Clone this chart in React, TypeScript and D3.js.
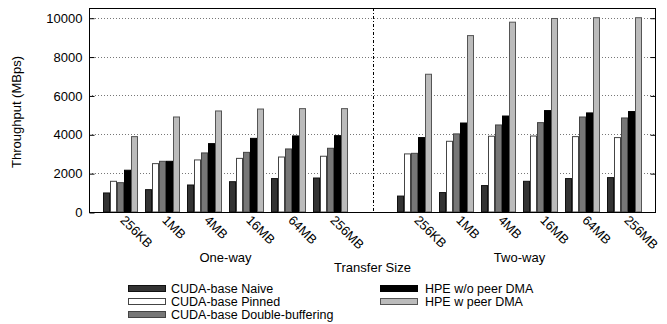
import { useEffect, useRef } from "react";
import * as d3 from "d3";

const sizes = ["256KB", "1MB", "4MB", "16MB", "64MB", "256MB"];
const seriesNames = [
  "CUDA-base Naive",
  "CUDA-base Pinned",
  "CUDA-base Double-buffering",
  "HPE w/o peer DMA",
  "HPE w peer DMA",
];

// one-way transfers
const naiveOne = [980, 1150, 1390, 1560, 1720, 1750];
const pinnedOne = [1580, 2490, 2680, 2760, 2830, 2870];
const doubleOne = [1510, 2610, 3040, 3070, 3245, 3280];
const hpeWoOne = [2150, 2610, 3520, 3790, 3915, 3930];
const hpeWOne = [3880, 4890, 5200, 5300, 5320, 5320];

// two-way transfers
const naiveTwo = [820, 1000, 1360, 1580, 1720, 1770];
const pinnedTwo = [2990, 3640, 3900, 3910, 3880, 3830];
const doubleTwo = [3020, 4020, 4480, 4600, 4890, 4840];
const hpeWoTwo = [3830, 4580, 4940, 5220, 5100, 5170];
const hpeWTwo = [7090, 9080, 9770, 9960, 10000, 10000];

const yTicks = [0, 2000, 4000, 6000, 8000, 10000];

const fills = ["#333333", "#ffffff", "#777777", "#000000", "#bbbbbb"];
const strokes = ["#111111", "#444444", "#444444", "#000000", "#555555"];

const FONT = "'Liberation Sans', Arial, sans-serif";

export default function App() {
  const svgRef = useRef(null);

  useEffect(() => {
    const svg = d3.select(svgRef.current);
    svg.selectAll("*").remove();

    const margin = { top: 8, right: 11, bottom: 112, left: 89 };
    const width = 667;
    const height = 324;
    const plotBottom = height - margin.bottom;

    const x = d3
      .scaleLinear()
      .domain([-0.75, 12.75])
      .range([margin.left, width - margin.right]);
    const y = d3.scaleLinear().domain([0, 10500]).range([plotBottom, margin.top]);

    const slotW = x(1) - x(0);
    const barW = slotW / 6;

    const one = [naiveOne, pinnedOne, doubleOne, hpeWoOne, hpeWOne];
    const two = [naiveTwo, pinnedTwo, doubleTwo, hpeWoTwo, hpeWTwo];

    const bars = [];
    one.forEach((vals, s) =>
      vals.forEach((v, i) => bars.push({ slot: i, s, v }))
    );
    two.forEach((vals, s) =>
      vals.forEach((v, i) => bars.push({ slot: i + 7, s, v }))
    );

    // gridlines
    svg
      .append("g")
      .selectAll("line")
      .data(yTicks.slice(1))
      .join("line")
      .attr("x1", margin.left)
      .attr("x2", width - margin.right)
      .attr("y1", (d) => Math.round(y(d)) + 0.5)
      .attr("y2", (d) => Math.round(y(d)) + 0.5)
      .attr("stroke", "#777")
      .attr("stroke-width", 1)
      .attr("stroke-dasharray", "1,2");

    // separator between one-way and two-way
    svg
      .append("line")
      .attr("x1", Math.round(x(6)) + 0.5)
      .attr("x2", Math.round(x(6)) + 0.5)
      .attr("y1", margin.top)
      .attr("y2", plotBottom)
      .attr("stroke", "#000")
      .attr("stroke-dasharray", "3,2,1,2");

    // bars
    svg
      .append("g")
      .selectAll("rect")
      .data(bars)
      .join("rect")
      .attr("x", (d) => x(d.slot) - 2.5 * barW + d.s * barW + 0.5)
      .attr("y", (d) => y(d.v))
      .attr("width", barW - 1)
      .attr("height", (d) => y(0) - y(d.v))
      .attr("fill", (d) => fills[d.s])
      .attr("stroke", (d) => strokes[d.s])
      .attr("stroke-width", 1);

    // frame
    svg
      .append("rect")
      .attr("x", margin.left + 0.5)
      .attr("y", margin.top + 0.5)
      .attr("width", width - margin.right - margin.left - 1)
      .attr("height", plotBottom - margin.top)
      .attr("fill", "none")
      .attr("stroke", "#000");

    // y axis
    const yAxis = d3
      .axisLeft(y)
      .tickValues(yTicks)
      .tickFormat(d3.format("d"))
      .tickSize(-5)
      .tickPadding(7);
    const ga = svg
      .append("g")
      .attr("transform", `translate(${margin.left + 0.5},0.5)`)
      .call(yAxis);
    ga.select(".domain").remove();
    ga.selectAll("text")
      .attr("font-family", FONT)
      .attr("font-size", 13)
      .attr("fill", "#000");

    const yAxisR = d3
      .axisRight(y)
      .tickValues(yTicks.slice(1))
      .tickSize(-5)
      .tickFormat(() => "");
    const gr = svg
      .append("g")
      .attr("transform", `translate(${width - margin.right - 0.5},0.5)`)
      .call(yAxisR);
    gr.select(".domain").remove();

    // x labels
    const labels = [];
    sizes.forEach((t, i) => labels.push({ slot: i, t }));
    sizes.forEach((t, i) => labels.push({ slot: i + 7, t }));
    svg
      .append("g")
      .selectAll("text")
      .data(labels)
      .join("text")
      .attr(
        "transform",
        (d) => `translate(${x(d.slot) - 1},${plotBottom + 9}) rotate(45)`
      )
      .attr("font-family", FONT)
      .attr("font-size", 13)
      .text((d) => d.t);

    const txt = (t, cx, cy) =>
      svg
        .append("text")
        .attr("x", cx)
        .attr("y", cy)
        .attr("text-anchor", "middle")
        .attr("font-family", FONT)
        .attr("font-size", 13)
        .text(t);

    txt("One-way", x(2.5), 262);
    txt("Two-way", x(9.5), 262);
    txt("Transfer Size", (margin.left + width - margin.right) / 2, 272);

    svg
      .append("text")
      .attr("transform", "translate(21,112) rotate(-90)")
      .attr("text-anchor", "middle")
      .attr("font-family", FONT)
      .attr("font-size", 13)
      .text("Throughput (MBps)");

    // legend
    const legendPos = [
      [128, 289],
      [128, 302],
      [128, 315],
      [380, 289],
      [380, 302],
    ];
    const lg = svg
      .append("g")
      .selectAll("g")
      .data(seriesNames)
      .join("g")
      .attr(
        "transform",
        (d, i) => `translate(${legendPos[i][0]},${legendPos[i][1]})`
      );
    lg.append("rect")
      .attr("x", 0.5)
      .attr("y", -3.5)
      .attr("width", 37)
      .attr("height", 6)
      .attr("fill", (d, i) => fills[i])
      .attr("stroke", (d, i) => strokes[i]);
    lg.append("text")
      .attr("x", (d, i) => (i < 3 ? 43 : 45))
      .attr("y", 4)
      .attr("font-family", FONT)
      .attr("font-size", 12.5)
      .text((d) => d);
  }, []);

  return (
    <svg
      ref={svgRef}
      width={667}
      height={324}
      style={{ position: "absolute", left: 0, top: 0, background: "#fff" }}
    ></svg>
  );
}
